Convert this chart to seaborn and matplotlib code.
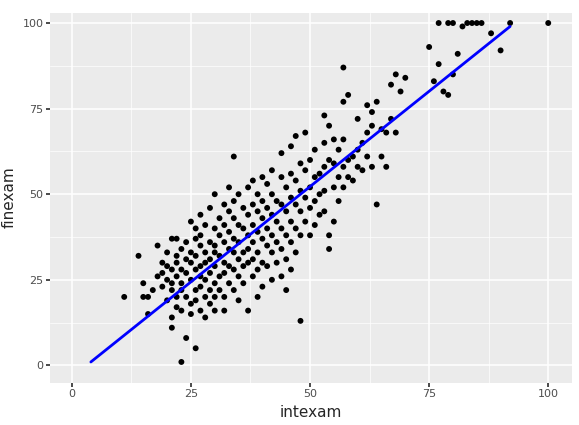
import matplotlib
matplotlib.use('Agg')
import matplotlib.pyplot as plt
import seaborn as sns
import pandas as pd

# points (intexam, finexam)
pts = [(11,20),(14,32),(15,20),(15,24),(16,15),(16,20),(17,22),(18,26),(18,35),(19,30),(19,27),(19,23),(20,33),(20,29),(20,25),(20,19),(21,37),(21,28),(21,24),(21,22),(21,14),(21,11),(22,37),(22,30),(22,26),(22,20),(22,17),(22,32),(23,1),(23,34),(23,28),(23,24),(23,22),(23,16),(24,36),(24,31),(24,27),(24,8),(24,20),(25,25),(25,30),(25,42),(25,33),(25,18),(25,15),(26,37),(26,32),(26,28),(26,22),(26,19),(26,5),(26,40),(27,38),(27,35),(27,29),(27,26),(27,23),(27,16),(27,44),(28,41),(28,33),(28,30),(28,25),(28,20),(28,14),(29,46),(29,36),(29,31),(29,27),(29,22),(29,18),(30,50),(30,40),(30,35),(30,33),(30,29),(30,24),(30,20),(30,16),(31,43),(31,38),(31,32),(31,26),(31,22),(32,47),(32,41),(32,36),(32,30),(32,27),(32,20),(32,16),(33,52),(33,45),(33,39),(33,34),(33,29),(33,24),(34,61),(34,48),(34,43),(34,37),(34,33),(34,28),(34,22),(35,50),(35,41),(35,36),(35,31),(35,26),(35,19),(36,46),(36,40),(36,33),(36,29),(36,24),(37,52),(37,44),(37,38),(37,34),(37,30),(37,16),(38,54),(38,47),(38,41),(38,36),(38,31),(38,26),(39,50),(39,45),(39,39),(39,33),(39,28),(39,20),(40,55),(40,48),(40,43),(40,37),(40,30),(40,23),(41,53),(41,46),(41,40),(41,35),(41,29),(42,57),(42,50),(42,44),(42,38),(42,33),(42,25),(43,48),(43,42),(43,36),(43,30),(44,62),(44,55),(44,47),(44,40),(44,34),(44,26),(45,52),(45,45),(45,38),(45,31),(45,22),(46,64),(46,56),(46,49),(46,42),(46,36),(46,28),(47,67),(47,54),(47,47),(47,40),(47,33),(48,59),(48,51),(48,45),(48,13),(48,38),(49,68),(49,57),(49,49),(49,42),(50,60),(50,52),(50,46),(50,38),(51,63),(51,55),(51,48),(51,41),(52,56),(52,50),(52,44),(53,73),(53,65),(53,58),(53,51),(53,45),(54,70),(54,60),(54,38),(54,34),(55,66),(55,59),(55,52),(55,42),(56,63),(56,55),(56,48),(57,87),(57,77),(57,66),(57,58),(57,52),(58,79),(58,60),(58,55),(59,61),(59,54),(60,72),(60,63),(60,58),(61,65),(61,57),(62,76),(62,68),(62,61),(63,74),(63,70),(63,58),(64,77),(64,47),(65,69),(65,61),(66,68),(66,58),(67,82),(67,72),(68,68),(68,85),(69,80),(70,84),(75,93),(76,83),(77,100),(77,88),(78,80),(79,100),(79,79),(80,100),(80,85),(81,91),(82,99),(83,100),(84,100),(85,100),(86,100),(88,97),(90,92),(92,100),(100,100)]
df = pd.DataFrame(pts, columns=['intexam', 'finexam'])

# fitted line endpoints
line_x = [4, 92]
line_y = [1, 99]

sns.set_theme(style='darkgrid', rc={'axes.facecolor': '#EBEBEB', 'grid.color': 'white'})
plt.rcParams['font.family'] = ['DejaVu Sans']
fig, ax = plt.subplots(figsize=(5.79, 4.25), dpi=100)
sns.scatterplot(data=df, x='intexam', y='finexam', color='black', s=18, edgecolor='none', ax=ax, zorder=3)
sns.lineplot(x=line_x, y=line_y, color='blue', linewidth=2, ax=ax, zorder=4)

ax.set_xlim(-4.5, 105)
ax.set_ylim(-5, 103)
ax.set_xticks([0, 25, 50, 75, 100])
ax.set_yticks([0, 25, 50, 75, 100])
ax.set_xticks([12.5, 37.5, 62.5, 87.5], minor=True)
ax.set_yticks([12.5, 37.5, 62.5, 87.5], minor=True)
ax.grid(which='major', color='white', linewidth=1.1)
ax.grid(which='minor', color='white', linewidth=0.5)
ax.tick_params(which='major', length=3, color='#333333', labelsize=8, labelcolor='#4D4D4D', bottom=True, left=True, pad=2)
ax.tick_params(which='minor', length=0)
ax.set_xlabel('intexam', fontsize=11)
ax.set_ylabel('finexam', fontsize=11)
for s in ax.spines.values():
    s.set_visible(False)
fig.subplots_adjust(left=0.087, right=0.988, top=0.97, bottom=0.1)
fig.savefig('out.png')
